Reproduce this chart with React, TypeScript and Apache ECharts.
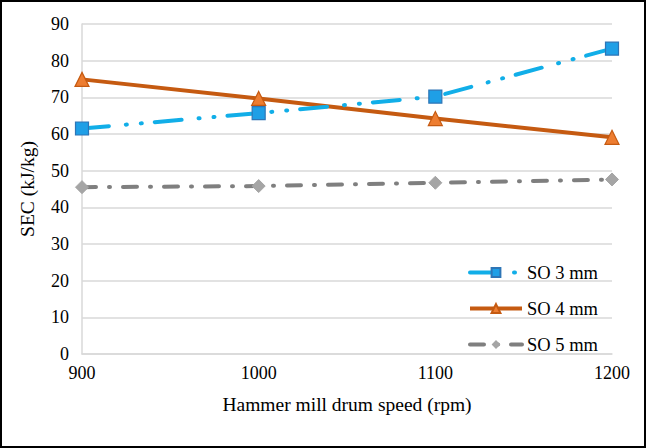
import React, { useEffect, useRef } from "react";
import * as echarts from "echarts";

const speeds = [900, 1000, 1100, 1200];
const so3 = [61.5, 65.7, 70.2, 83.3];
const so4 = [74.9, 69.7, 64.2, 59.1];
const so5 = [45.5, 45.8, 46.7, 47.6];
const seriesNames = ["SO 3 mm", "SO 4 mm", "SO 5 mm"];

const FONT = "'Liberation Serif', 'Times New Roman', serif";

export default function App() {
  const ref = useRef<HTMLDivElement>(null);
  useEffect(() => {
    if (!ref.current) return;
    const chart = echarts.init(ref.current, undefined, { renderer: "svg" });
    const pair = (vals: number[]) => speeds.map((s, i) => [s, vals[i]]);
    chart.setOption({
      animation: false,
      backgroundColor: "#ffffff",
      grid: { left: 80, right: 32, top: 22, bottom: 92 },
      legend: {
        orient: "vertical",
        left: 461,
        top: 256,
        itemWidth: 52,
        itemHeight: 11,
        itemGap: 17,
        lineStyle: { width: 4 },
        textStyle: { fontFamily: FONT, fontSize: 18.5, color: "#000" },
        data: seriesNames,
      },
      xAxis: {
        type: "value",
        min: 900,
        max: 1200,
        interval: 100,
        name: "Hammer mill drum speed (rpm)",
        nameLocation: "middle",
        nameGap: 40,
        nameTextStyle: { fontFamily: FONT, fontSize: 19.5, color: "#000" },
        axisLine: { show: true, lineStyle: { color: "#d9d9d9", width: 1.5 } },
        axisTick: { show: false },
        splitLine: { show: false },
        axisLabel: {
          fontFamily: FONT,
          fontSize: 18,
          color: "#000",
          margin: 10,
          formatter: (v: number) => String(v),
        },
      },
      yAxis: {
        type: "value",
        min: 0,
        max: 90,
        interval: 10,
        name: "SEC (kJ/kg)",
        nameLocation: "middle",
        nameGap: 45,
        nameTextStyle: { fontFamily: FONT, fontSize: 19.5, color: "#000" },
        axisLine: { show: true, lineStyle: { color: "#d9d9d9", width: 1.5 } },
        axisTick: { show: false },
        splitLine: { show: true, lineStyle: { color: "#d9d9d9", width: 1.5 } },
        axisLabel: { fontFamily: FONT, fontSize: 18, color: "#000", margin: 13 },
      },
      series: [
        {
          name: seriesNames[0],
          type: "line",
          data: pair(so3),
          symbol: "rect",
          symbolSize: 13,
          itemStyle: { color: "#1f9fe6", borderColor: "#2e75b6", borderWidth: 1.2 },
          lineStyle: { color: "#11aee8", width: 4, type: [27, 17, 1, 14, 1, 13], cap: "round" },
          z: 3,
        },
        {
          name: seriesNames[1],
          type: "line",
          data: pair(so4),
          symbol: "triangle",
          symbolSize: 14,
          itemStyle: { color: "#ed7d31", borderColor: "#c55a11", borderWidth: 1.2 },
          lineStyle: { color: "#c55a11", width: 4, type: "solid" },
          z: 2,
        },
        {
          name: seriesNames[2],
          type: "line",
          data: pair(so5),
          symbol: "diamond",
          symbolSize: 13,
          itemStyle: { color: "#a5a5a5", borderColor: "#a5a5a5" },
          lineStyle: { color: "#7f7f7f", width: 4, type: [14, 13, 1, 13], cap: "round" },
          z: 1,
        },
      ],
    });
    return () => chart.dispose();
  }, []);
  return (
    <div
      style={{
        position: "absolute",
        left: 0,
        top: 0,
        width: 646,
        height: 448,
        boxSizing: "border-box",
        border: "2px solid #000",
        background: "#fff",
      }}
    >
      <div ref={ref} style={{ width: 642, height: 444 }} />
    </div>
  );
}
